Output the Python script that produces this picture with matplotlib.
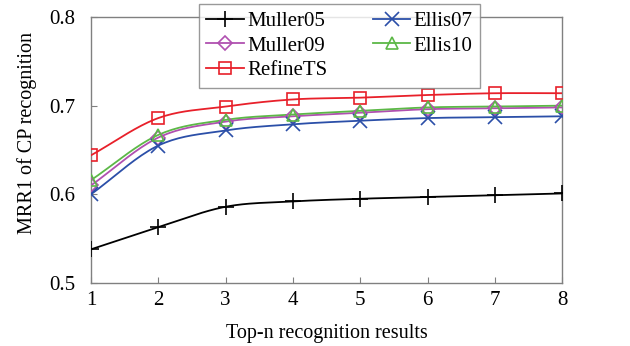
import numpy as np
import matplotlib
matplotlib.use('Agg')
import matplotlib.pyplot as plt

# Top-n values and MRR1 scores per method
top_n = [1, 2, 3, 4, 5, 6, 7, 8]
muller05 = [0.538, 0.563, 0.586, 0.592, 0.595, 0.597, 0.599, 0.601]
muller09 = [0.610, 0.664, 0.682, 0.688, 0.692, 0.696, 0.697, 0.698]
refinets = [0.644, 0.686, 0.699, 0.707, 0.709, 0.712, 0.714, 0.714]
ellis07 = [0.600, 0.655, 0.672, 0.679, 0.683, 0.686, 0.687, 0.688]
ellis10 = [0.616, 0.667, 0.684, 0.690, 0.694, 0.698, 0.699, 0.700]


def smooth(x, y, n=20):
    """Catmull-Rom curve through the points (spreadsheet-style smoothed line)."""
    x = np.asarray(x, float)
    y = np.asarray(y, float)
    px = np.concatenate([[2 * x[0] - x[1]], x, [2 * x[-1] - x[-2]]])
    py = np.concatenate([[2 * y[0] - y[1]], y, [2 * y[-1] - y[-2]]])
    xs, ys = [], []
    t = np.linspace(0, 1, n, endpoint=False)
    for i in range(1, len(px) - 2):
        p0, p1, p2, p3 = (np.array([px[j], py[j]]) for j in range(i - 1, i + 3))
        for tt in t:
            pt = 0.5 * ((2 * p1) + (-p0 + p2) * tt + (2 * p0 - 5 * p1 + 4 * p2 - p3) * tt ** 2
                        + (-p0 + 3 * p1 - 3 * p2 + p3) * tt ** 3)
            xs.append(pt[0])
            ys.append(pt[1])
    xs.append(x[-1])
    ys.append(y[-1])
    return xs, ys


plt.rcParams['font.family'] = ['Liberation Serif', 'DejaVu Serif']

fig = plt.figure(figsize=(6.3, 3.46), dpi=100)
ax = fig.add_axes([0.1444, 0.182, 0.748, 0.769])

series = [
    ('Muller05', muller05, 'black', '+', 'none', 11),
    ('Muller09', muller09, '#B050B0', 'D', 'none', 7),
    ('RefineTS', refinets, '#E8202A', 's', 'none', 9),
    ('Ellis07', ellis07, '#2B4FA8', 'x', 'none', 10),
    ('Ellis10', ellis10, '#5CB847', '^', 'none', 9),
]

handles = []
for name, vals, col, mk, mfc, ms in series:
    sx, sy = smooth(top_n, vals)
    ax.plot(sx, sy, color=col, lw=1.3, zorder=3)
    ax.plot(top_n, vals, linestyle='none', marker=mk, color=col, mfc=mfc,
            ms=ms, mew=1.2, zorder=4)
    h, = ax.plot([], [], color=col, lw=1.3, marker=mk, mfc=mfc, ms=ms, mew=1.2)
    h.set_label(name)
    handles.append(h)

ax.set_xlim(1, 8)
ax.set_ylim(0.5, 0.8)
ax.set_xticks(top_n)
ax.set_yticks([0.5, 0.6, 0.7, 0.8])
ax.set_yticklabels(['0.5', '0.6', '0.7', '0.8'])
ax.tick_params(direction='in', labelsize=15, length=4, color='#808080')
ax.tick_params(axis='x', pad=6)
ax.tick_params(axis='y', pad=11)
for s in ax.spines.values():
    s.set_color('#808080')
    s.set_linewidth(1.0)

ax.set_xlabel('Top-n recognition results', fontsize=14.5, labelpad=10)
ax.set_ylabel('MRR1 of CP recognition', fontsize=14.5)
ax.yaxis.set_label_coords(-0.115, 0.564)

leg = fig.legend(handles=handles, ncol=2, loc='upper left',
                 bbox_to_anchor=(199 / 630, 1 - 4 / 346),
                 prop={'family': ['Liberation Serif', 'DejaVu Serif'], 'size': 15},
                 frameon=True, fancybox=False, edgecolor='#808080',
                 handlelength=1.8, handletextpad=0.15, columnspacing=2.2,
                 labelspacing=0.25, borderpad=0.35, borderaxespad=0)
leg.get_frame().set_linewidth(1.0)
leg.set_zorder(10)

fig.savefig('out.png', dpi=100)
